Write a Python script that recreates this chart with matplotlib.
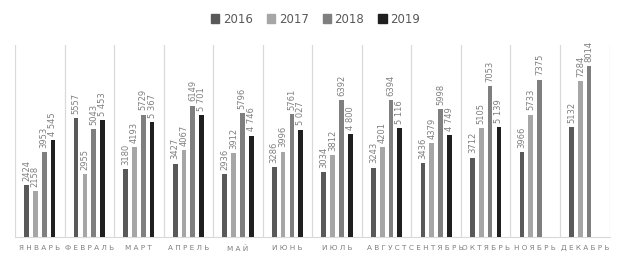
import numpy as np
import matplotlib
matplotlib.use('Agg')
import matplotlib.pyplot as plt
from matplotlib.patches import Patch

months = ['ЯНВАРЬ', 'ФЕВРАЛЬ', 'МАРТ', 'АПРЕЛЬ', 'МАЙ', 'ИЮНЬ', 'ИЮЛЬ',
          'АВГУСТ', 'СЕНТЯБРЬ', 'ОКТЯБРЬ', 'НОЯБРЬ', 'ДЕКАБРЬ']
years = ['2016', '2017', '2018', '2019']
v2016 = [2424, 5557, 3180, 3427, 2936, 3286, 3034, 3243, 3436, 3712, 3966, 5132]
v2017 = [2158, 2955, 4193, 4067, 3912, 3996, 3812, 4201, 4379, 5105, 5733, 7284]
v2018 = [3953, 5043, 5729, 6149, 5796, 5761, 6392, 6394, 5998, 7053, 7375, 8014]
v2019 = [4545, 5453, 5367, 5701, 4746, 5027, 4800, 5116, 4749, 5139, None, None]

series = [v2016, v2017, v2018, v2019]
colors = ['#595959', '#a6a6a6', '#7f7f7f', '#1f1f1f']

plt.rcParams['font.family'] = ['DejaVu Sans']

fig = plt.figure(figsize=(6.25, 2.62), dpi=100)
ax = fig.add_axes([0.024, 0.0966, 0.9512, 0.732])

x = np.arange(len(months))
step = 0.178
width = 0.095
for i, (vals, col, yr) in enumerate(zip(series, colors, years)):
    pos = x + (i - 1.5) * step
    for p, v in zip(pos, vals):
        if v is None:
            continue
        ax.bar(p, v, width=width, color=col, zorder=3)
        # в 2019 числа с пробелом-разделителем
        txt = f'{v:,}'.replace(',', ' ') if yr == '2019' else str(v)
        ax.annotate(txt, (p, v), xytext=(0, 3), textcoords='offset points',
                    rotation=90, ha='center', va='bottom', fontsize=6,
                    color='#7f7f7f')

ax.set_xlim(-0.5, len(months) - 0.5)
ax.set_ylim(0, 9000)
ax.set_yticks([])
ax.set_xticks(x)
ax.set_xticklabels([' '.join(m) for m in months], fontsize=5.2, color='#7f7f7f')
ax.set_xticks(np.arange(-0.5, len(months)), minor=True)
ax.tick_params(axis='x', which='major', length=0, pad=6)
ax.tick_params(axis='x', which='minor', length=0)
ax.grid(axis='x', which='minor', color='#d9d9d9', linewidth=0.9, zorder=0)
for s in ['top', 'left', 'right']:
    ax.spines[s].set_visible(False)
ax.spines['bottom'].set_color('#d9d9d9')

handles = [Patch(color=c, label=y) for c, y in zip(colors, years)]
fig.legend(handles=handles, loc='center', bbox_to_anchor=(0.505, 0.927), ncol=4,
           frameon=False, fontsize=8.5, handlelength=0.7, handleheight=0.7,
           handletextpad=0.3, columnspacing=1.2, labelcolor='#595959')

fig.savefig('out.png', dpi=100)
